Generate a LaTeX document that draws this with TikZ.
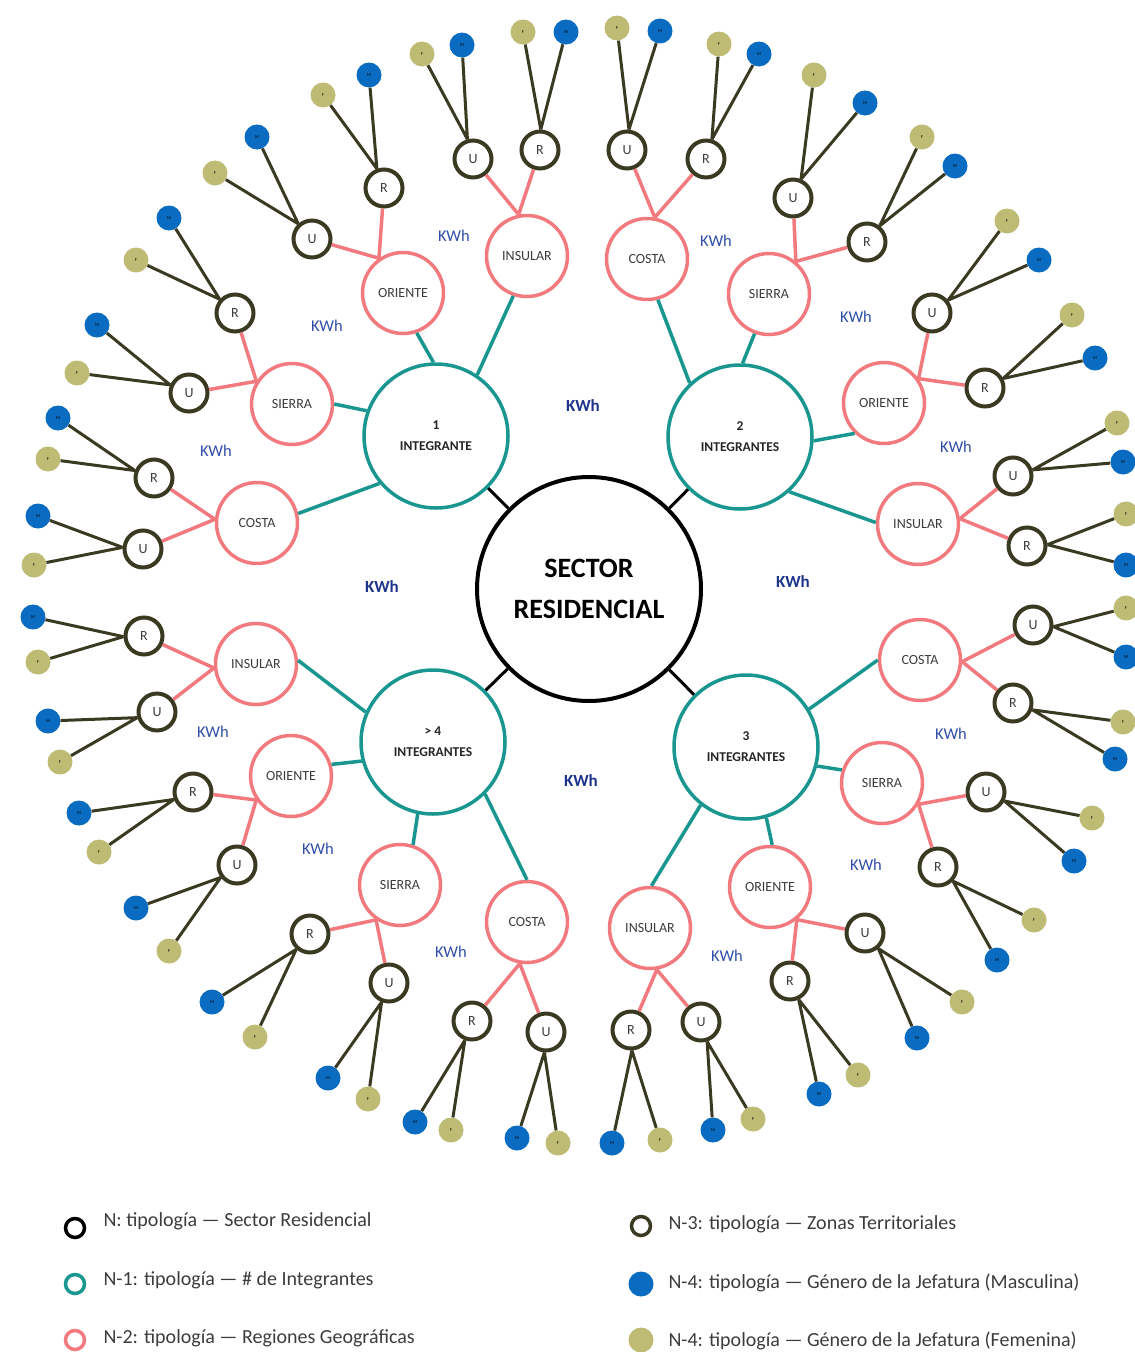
\documentclass[tikz,border=0pt]{standalone}
\usepackage{fontspec}
\setmainfont{Carlito}
\usetikzlibrary{calc}

\definecolor{cTeal}{RGB}{24,150,143}
\definecolor{cPink}{RGB}{242,122,126}
\definecolor{cOliv}{RGB}{58,58,34}
\definecolor{cMasc}{RGB}{10,108,192}
\definecolor{cFem}{RGB}{190,188,116}
\definecolor{cKwh}{RGB}{48,78,168}
\definecolor{cKwhB}{RGB}{30,52,140}
\definecolor{cTxt}{RGB}{60,60,60}

\tikzset{
  n0/.style={circle, draw=black, line width=4pt, minimum size=224pt, inner sep=0pt,
    align=center, font=\bfseries\fontsize{28}{41}\selectfont},
  n1/.style={circle, draw=cTeal, line width=3.5pt, minimum size=144pt, inner sep=0pt,
    align=center, text=black!85, font=\bfseries\fontsize{13.5}{21}\selectfont},
  n2/.style={circle, draw=cPink, line width=3.5pt, minimum size=81pt, inner sep=0pt,
    text=cTxt, font=\fontsize{14}{16}\selectfont},
  n3/.style={circle, draw=cOliv, line width=4pt, minimum size=37pt, inner sep=0pt,
    text=cTxt, font=\fontsize{14}{16}\selectfont},
  n4m/.style={circle, fill=cMasc, minimum size=25pt, inner sep=0pt, font=\fontsize{4.5}{5}\selectfont},
  n4f/.style={circle, fill=cFem, minimum size=25pt, inner sep=0pt, font=\fontsize{4.5}{5}\selectfont},
  e0/.style={black, line width=3pt},
  e1/.style={cTeal, line width=3.5pt},
  e2/.style={cPink, line width=3.5pt},
  e3/.style={cOliv, line width=3pt},
  kwh/.style={text=cKwh, font=\fontsize{16.5}{18}\selectfont},
  kwhc/.style={text=cKwhB, font=\bfseries\fontsize{17}{18}\selectfont},
  lring/.style={circle, line width=3.5pt, minimum size=19pt, inner sep=0pt},
  ldot/.style={circle, minimum size=25pt, inner sep=0pt},
  ltxt/.style={anchor=west, text=cTxt, font=\fontsize{20}{22}\selectfont}
}

\begin{document}
\begin{tikzpicture}[x=1pt,y=-1pt]
\useasboundingbox (0,0) rectangle (1135,1352);
\clip (0,0) rectangle (1135,1352);
% N: sector
\node[n0] (s) at (589,589) {SECTOR\\RESIDENCIAL};
% N-1: integrantes
\node[n1] (i1) at (436,436) {1\\INTEGRANTE};
\node[n1] (i2) at (740,437) {2\\INTEGRANTES};
\node[n1] (i3) at (746,747) {3\\INTEGRANTES};
\node[n1] (i4) at (433,742) {> 4\\INTEGRANTES};
% N-2: regiones
\node[n2] (i1o) at (403,293) {ORIENTE};
\node[n2] (i1i) at (527,256) {INSULAR};
\node[n2] (i1s) at (292,404) {SIERRA};
\node[n2] (i1c) at (257,523) {COSTA};
\node[n2] (i2c) at (647,259) {COSTA};
\node[n2] (i2s) at (769,294) {SIERRA};
\node[n2] (i2o) at (884,403) {ORIENTE};
\node[n2] (i2i) at (918,524) {INSULAR};
\node[n2] (i3c) at (920,660) {COSTA};
\node[n2] (i3s) at (882,783) {SIERRA};
\node[n2] (i3o) at (770,887) {ORIENTE};
\node[n2] (i3i) at (650,928) {INSULAR};
\node[n2] (i4i) at (256,664) {INSULAR};
\node[n2] (i4o) at (291,776) {ORIENTE};
\node[n2] (i4s) at (400,885) {SIERRA};
\node[n2] (i4c) at (527,922) {COSTA};
% N-3 y N-4: zonas y jefatura
\node[n3] (i1or) at (384,188) {R}; \node[n4m] (i1orm) at (369,75) {M}; \node[n4f] (i1orf) at (323,95) {F};
\node[n3] (i1ou) at (312,239) {U}; \node[n4m] (i1oum) at (257,137) {M}; \node[n4f] (i1ouf) at (215,173) {F};
\node[n3] (i1iu) at (473,159) {U}; \node[n4m] (i1ium) at (462,45) {M}; \node[n4f] (i1iuf) at (422,54) {F};
\node[n3] (i1ir) at (540,150) {R}; \node[n4m] (i1irm) at (566,32) {M}; \node[n4f] (i1irf) at (523,32) {F};
\node[n3] (i1sr) at (235,313) {R}; \node[n4m] (i1srm) at (169,218) {M}; \node[n4f] (i1srf) at (136,260) {F};
\node[n3] (i1su) at (189,393) {U}; \node[n4m] (i1sum) at (97,325) {M}; \node[n4f] (i1suf) at (77,373) {F};
\node[n3] (i1cr) at (154,478) {R}; \node[n4m] (i1crm) at (58,418) {M}; \node[n4f] (i1crf) at (48,459) {F};
\node[n3] (i1cu) at (143,549) {U}; \node[n4m] (i1cum) at (38,516) {M}; \node[n4f] (i1cuf) at (34,565) {F};
\node[n3] (i2cu) at (627,150) {U}; \node[n4m] (i2cum) at (660,31) {M}; \node[n4f] (i2cuf) at (617,28) {F};
\node[n3] (i2cr) at (706,159) {R}; \node[n4m] (i2crm) at (759,54) {M}; \node[n4f] (i2crf) at (719,44) {F};
\node[n3] (i2su) at (793,198) {U}; \node[n4m] (i2sum) at (865,103) {M}; \node[n4f] (i2suf) at (814,75) {F};
\node[n3] (i2sr) at (867,242) {R}; \node[n4m] (i2srm) at (955,166) {M}; \node[n4f] (i2srf) at (922,137) {F};
\node[n3] (i2ou) at (932,313) {U}; \node[n4m] (i2oum) at (1039,260) {M}; \node[n4f] (i2ouf) at (1007,221) {F};
\node[n3] (i2or) at (985,388) {R}; \node[n4m] (i2orm) at (1095,358) {M}; \node[n4f] (i2orf) at (1072,315) {F};
\node[n3] (i2iu) at (1013,476) {U}; \node[n4m] (i2ium) at (1123,462) {M}; \node[n4f] (i2iuf) at (1117,423) {F};
\node[n3] (i2ir) at (1027,546) {R}; \node[n4m] (i2irm) at (1126,565) {M}; \node[n4f] (i2irf) at (1126,514) {F};
\node[n3] (i3cu) at (1033,625) {U}; \node[n4m] (i3cum) at (1126,657) {M}; \node[n4f] (i3cuf) at (1126,608) {F};
\node[n3] (i3cr) at (1013,703) {R}; \node[n4m] (i3crm) at (1115,759) {M}; \node[n4f] (i3crf) at (1123,722) {F};
\node[n3] (i3su) at (986,792) {U}; \node[n4m] (i3sum) at (1074,861) {M}; \node[n4f] (i3suf) at (1092,818) {F};
\node[n3] (i3sr) at (938,867) {R}; \node[n4m] (i3srm) at (997,960) {M}; \node[n4f] (i3srf) at (1034,920) {F};
\node[n3] (i3ou) at (865,933) {U}; \node[n4m] (i3oum) at (917,1038) {M}; \node[n4f] (i3ouf) at (962,1002) {F};
\node[n3] (i3or) at (790,981) {R}; \node[n4m] (i3orm) at (819,1094) {M}; \node[n4f] (i3orf) at (858,1075) {F};
\node[n3] (i3ir) at (631,1030) {R}; \node[n4m] (i3irm) at (612,1143) {M}; \node[n4f] (i3irf) at (660,1140) {F};
\node[n3] (i3iu) at (701,1022) {U}; \node[n4m] (i3ium) at (713,1130) {M}; \node[n4f] (i3iuf) at (753,1119) {F};
\node[n3] (i4ir) at (144,636) {R}; \node[n4m] (i4irm) at (33,617) {M}; \node[n4f] (i4irf) at (38,662) {F};
\node[n3] (i4iu) at (157,712) {U}; \node[n4m] (i4ium) at (48,721) {M}; \node[n4f] (i4iuf) at (60,762) {F};
\node[n3] (i4or) at (193,792) {R}; \node[n4m] (i4orm) at (79,813) {M}; \node[n4f] (i4orf) at (99,852) {F};
\node[n3] (i4ou) at (237,865) {U}; \node[n4m] (i4oum) at (136,908) {M}; \node[n4f] (i4ouf) at (169,951) {F};
\node[n3] (i4sr) at (310,934) {R}; \node[n4m] (i4srm) at (212,1002) {M}; \node[n4f] (i4srf) at (255,1037) {F};
\node[n3] (i4su) at (389,983) {U}; \node[n4m] (i4sum) at (328,1078) {M}; \node[n4f] (i4suf) at (368,1099) {F};
\node[n3] (i4cr) at (472,1021) {R}; \node[n4m] (i4crm) at (415,1122) {M}; \node[n4f] (i4crf) at (451,1130) {F};
\node[n3] (i4cu) at (546,1032) {U}; \node[n4m] (i4cum) at (517,1138) {M}; \node[n4f] (i4cuf) at (558,1143) {F};
% N -> N-1
\draw[e0] (s) -- (i1);
\draw[e0] (s) -- (i2);
\draw[e0] (s) -- (i3);
\draw[e0] (s) -- (i4);
% N-1 -> N-2
\draw[e1] (i1.92) -- (i1o.-71);
\draw[e1] (i1.56) -- (i1i.-109);
\draw[e1] (i1.160) -- (i1s.0);
\draw[e1] (i1.220) -- (i1c.13);
\draw[e1] (i2.133) -- (i2c.-75);
\draw[e1] (i2.88) -- (i2s.-110);
\draw[e1] (i2.-3) -- (i2o.-134);
\draw[e1] (i2.-48) -- (i2i.178);
\draw[e1] (i3.31) -- (i3c.180);
\draw[e1] (i3.-15) -- (i3s.162);
\draw[e1] (i3.-74) -- (i3o.87);
\draw[e1] (i3.-128) -- (i3i.88);
\draw[e1] (i4.156) -- (i4i.5);
\draw[e1] (i4.195) -- (i4o.16);
\draw[e1] (i4.-102) -- (i4s.72);
\draw[e1] (i4.-45) -- (i4c.90);
% N-2 -> N-3 -> N-4
\foreach \g in {i1o,i1i,i1s,i1c,i2c,i2s,i2o,i2i,i3c,i3s,i3o,i3i,i4i,i4o,i4s,i4c}{
  \path (\g) -- ($(\g r)!.5!(\g u)$) coordinate[pos=0] (\g j);
  \draw[e2] (\g j) -- (\g r) (\g j) -- (\g u);
  \foreach \z in {r,u}{
    \path (\g\z) -- ($(\g\z m)!.5!(\g\z f)$) coordinate[pos=0] (\g\z j);
    \draw[e3] (\g\z j) -- (\g\z m) (\g\z j) -- (\g\z f);
  }
}
% KWh
\node[kwhc] (k1) at (583,406) {KWh};
\node[kwhc] (k2) at (382,587) {KWh};
\node[kwhc] (k3) at (793,582) {KWh};
\node[kwhc] (k4) at (581,781) {KWh};
\node[kwh] (k5) at (454,236) {KWh};
\node[kwh] (k6) at (327,326) {KWh};
\node[kwh] (k7) at (216,451) {KWh};
\node[kwh] (k8) at (716,241) {KWh};
\node[kwh] (k9) at (856,317) {KWh};
\node[kwh] (k10) at (956,447) {KWh};
\node[kwh] (k11) at (951,734) {KWh};
\node[kwh] (k12) at (866,865) {KWh};
\node[kwh] (k13) at (727,956) {KWh};
\node[kwh] (k14) at (213,732) {KWh};
\node[kwh] (k15) at (318,849) {KWh};
\node[kwh] (k16) at (451,952) {KWh};
% leyenda
\node[lring, draw=black] (ln0) at (75,1228) {};
\node[ltxt] (lt0) at (100,1221) {N: tipología — Sector Residencial};
\node[lring, draw=cTeal] (ln1) at (75,1284) {};
\node[ltxt] (lt1) at (100,1280) {N-1: tipología — \# de Integrantes};
\node[lring, draw=cPink] (ln2) at (75,1340) {};
\node[ltxt] (lt2) at (100,1338) {N-2: tipología — Regiones Geográficas};
\node[lring, draw=cOliv] (ln3) at (641,1226) {};
\node[ltxt] (lt3) at (665,1224) {N-3: tipología — Zonas Territoriales};
\node[ldot, fill=cMasc] (ln4) at (641,1284) {};
\node[ltxt] (lt4) at (665,1283) {N-4: tipología — Género de la Jefatura (Masculina)};
\node[ldot, fill=cFem] (ln5) at (641,1340) {};
\node[ltxt] (lt5) at (665,1341) {N-4: tipología — Género de la Jefatura (Femenina)};
\end{tikzpicture}
\end{document}
